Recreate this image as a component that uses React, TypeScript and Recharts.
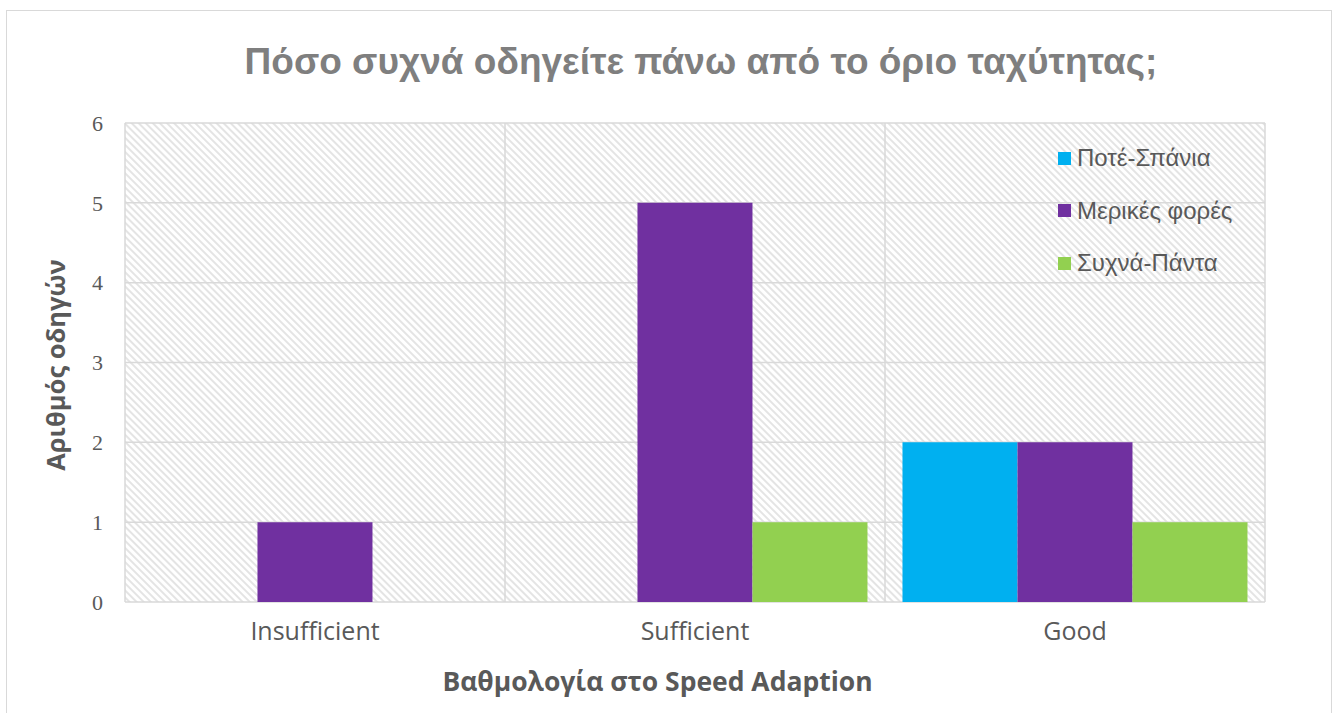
import React from 'react';
import { BarChart, Bar, XAxis, YAxis, CartesianGrid } from 'recharts';

const categories = ['Insufficient', 'Sufficient', 'Good'];
const neverRarely = [0, 0, 2];
const sometimes = [1, 5, 2];
const oftenAlways = [0, 1, 1];
const seriesNames = ['Ποτέ-Σπάνια', 'Μερικές φορές', 'Συχνά-Πάντα'];
const seriesColors = ['#00b0f0', '#7030a0', '#92d050'];
const yTicks = [0, 1, 2, 3, 4, 5, 6];

const title = 'Πόσο συχνά οδηγείτε πάνω από το όριο ταχύτητας;';
const xTitle = 'Βαθμολογία στο Speed Adaption';
const yTitle = 'Αριθμός οδηγών';

const data = categories.map((c, i) => ({
  name: c,
  s0: neverRarely[i],
  s1: sometimes[i],
  s2: oftenAlways[i],
}));

export default function App() {
  return (
    <div style={{ position: 'absolute', left: 0, top: 0, width: 1336, height: 713, overflow: 'hidden', background: '#fff' }}>
      <svg width={0} height={0} style={{ position: 'absolute' }}>
        <defs>
          <pattern id="hatch" patternUnits="userSpaceOnUse" width={5} height={5} patternTransform="rotate(-45)">
            <rect x={0} y={0} width={5} height={5} fill="#ffffff" />
            <line x1={1} y1={0} x2={1} y2={5} stroke="#e0e0e0" strokeWidth={1.7} />
          </pattern>
        </defs>
      </svg>
      <div style={{ position: 'absolute', left: 6, top: 10, width: 1326, height: 720, border: '1.5px solid #d9d9d9', boxSizing: 'border-box' }} />
      <div style={{ position: 'absolute', left: 0, top: 0 }}>
        <BarChart width={1336} height={713} data={data} margin={{ top: 123, right: 71, bottom: 81, left: 65 }} barCategoryGap="4.6%" barGap={0}>
          <CartesianGrid
            fill="url(#hatch)"
            stroke="#d9d9d9"
            strokeWidth={1.5}
            verticalCoordinatesGenerator={({ offset }: any) =>
              [0, 1, 2, 3].map((i) => offset.left + (i * offset.width) / categories.length)
            }
            horizontalValues={yTicks}
          />
          <XAxis
            dataKey="name"
            height={30}
            axisLine={false}
            tickLine={false}
            tickSize={0}
            tickMargin={20}
            tick={{ fill: '#595959', fontSize: 25, fontFamily: 'Open Sans' }}
          />
          <YAxis
            width={60}
            domain={[0, 6]}
            ticks={yTicks}
            axisLine={false}
            tickLine={false}
            tickSize={0}
            tickMargin={22}
            tick={{ fill: '#595959', fontSize: 22, fontFamily: 'Liberation Serif' }}
          />
          {['s0', 's1', 's2'].map((k, i) => (
            <Bar key={k} dataKey={k} name={seriesNames[i]} fill={seriesColors[i]} isAnimationActive={false} />
          ))}
        </BarChart>
      </div>
      <div style={{ position: 'absolute', left: 0, width: 1402, top: 40, textAlign: 'center', fontFamily: 'Liberation Sans', fontWeight: 'bold', fontSize: 37, color: '#7f7f7f', lineHeight: '44px' }}>
        {title}
      </div>
      <div style={{ position: 'absolute', left: 0, width: 1315, top: 663, textAlign: 'center', fontFamily: 'Open Sans', fontWeight: 'bold', fontSize: 26.5, color: '#595959', lineHeight: '36px' }}>
        {xTitle}
      </div>
      <div style={{ position: 'absolute', left: 55, top: 365, width: 0, height: 0 }}>
        <div style={{ position: 'absolute', left: -200, top: -18, width: 400, textAlign: 'center', transform: 'rotate(-90deg)', fontFamily: 'Open Sans', fontWeight: 'bold', fontSize: 25.5, color: '#595959', lineHeight: '36px' }}>
          {yTitle}
        </div>
      </div>
      <div style={{ position: 'absolute', left: 1058, top: 132 }}>
        {seriesNames.map((n, i) => (
          <div key={n} style={{ display: 'flex', alignItems: 'center', height: 52.5 }}>
            <div style={{ width: 13, height: 13, background: seriesColors[i], marginRight: 6 }} />
            <span style={{ fontFamily: 'Liberation Sans', fontSize: 24, color: '#595959', lineHeight: '30px' }}>{n}</span>
          </div>
        ))}
      </div>
    </div>
  );
}
